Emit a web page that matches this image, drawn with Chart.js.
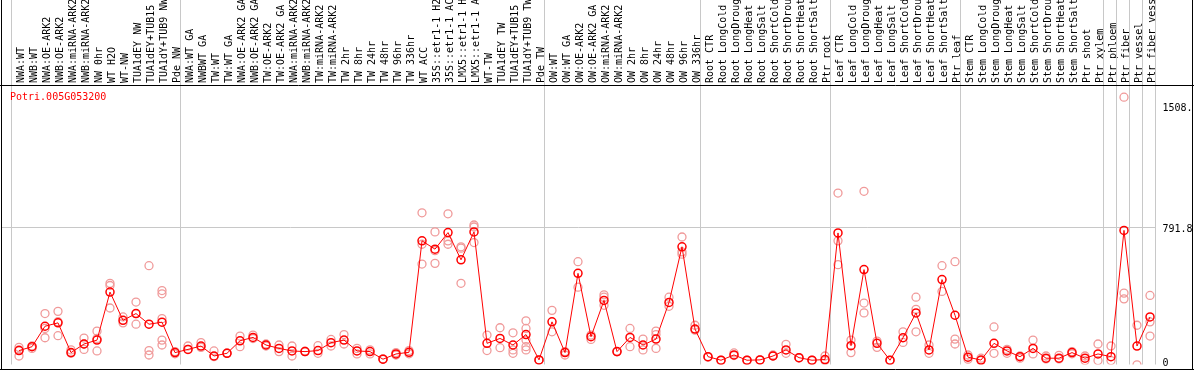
<!DOCTYPE html>
<html>
<head>
<meta charset="utf-8">
<script src="https://cdn.jsdelivr.net/npm/chart.js@4.4.1/dist/chart.umd.min.js"></script>
<style>
  body { margin: 0; background: #fff; }
</style>
</head>
<body>
<canvas id="expr" width="1194" height="370"></canvas>
<script>
// gene shown in the corner
const geneName = 'Potri.005G053200';

// sample names, left to right
const categories = [
  'NWA:WT', 'NWB:WT', 'NWA:OE-ARK2', 'NWB:OE-ARK2', 'NWA:miRNA-ARK2', 'NWB:miRNA-ARK2',
  'NW 0hr', 'WT H2O', 'WT-NW', 'TUA1dEY NW', 'TUA1dEY+TUB15 NW', 'TUA1dY+TUB9 NW', 'Pde NW',
  'NWA:WT GA', 'NWBWT GA', 'TW:WT', 'TW:WT GA', 'NWA:OE-ARK2 GA', 'NWB:OE-ARK2 GA',
  'TW:OE-ARK2', 'TW:OE-ARK2 GA', 'NWA:miRNA-ARK2 GA', 'NWB:miRNA-ARK2 GA', 'TW:miRNA-ARK2',
  'TW:miRNA-ARK2 GA', 'TW 2hr', 'TW 8hr', 'TW 24hr', 'TW 48hr', 'TW 96hr', 'TW 336hr',
  'WT ACC', '35S::etr1-1 H2O', '35S::etr1-1 ACC', 'LMX5::etr1-1 H2O', 'LMX5::etr1-1 ACC',
  'WT-TW', 'TUA1dEY TW', 'TUA1dEY+TUB15 TW', 'TUA1dY+TUB9 TW', 'Pde TW',
  'OW:WT', 'OW:WT GA', 'OW:OE-ARK2', 'OW:OE-ARK2 GA', 'OW:miRNA-ARK2', 'OW:miRNA-ARK2 GA',
  'OW 2hr', 'OW 8hr', 'OW 24hr', 'OW 48hr', 'OW 96hr', 'OW 336hr',
  'Root CTR', 'Root LongCold', 'Root LongDrought', 'Root LongHeat', 'Root LongSalt',
  'Root ShortCold', 'Root ShortDrought', 'Root ShortHeat', 'Root ShortSalt', 'Ptr root',
  'Leaf CTR', 'Leaf LongCold', 'Leaf LongDrought', 'Leaf LongHeat', 'Leaf LongSalt',
  'Leaf ShortCold', 'Leaf ShortDrought', 'Leaf ShortHeat', 'Leaf ShortSalt', 'Ptr leaf',
  'Stem CTR', 'Stem LongCold', 'Stem LongDrought', 'Stem LongHeat', 'Stem LongSalt',
  'Stem ShortCold', 'Stem ShortDrought', 'Stem ShortHeat', 'Stem ShortSalt', 'Ptr shoot', 'Ptr xylem',
  'Ptr phloem', 'Ptr fiber', 'Ptr vessel', 'Ptr fiber vessel'
];

// how many samples in each block between the gray separators
const groupSizes = [13, 28, 12, 10, 10, 11, 1, 1, 1, 1];

// mean expression per sample
const means = [
  59, 82, 203, 223, 47, 98, 121, 405, 238, 278, 215, 227, 47,
  66, 86, 27, 43, 117, 137, 92, 72, 57, 53, 59, 106, 121, 57, 53, 8, 39, 49,
  708, 659, 757, 596, 761, 102, 131, 92, 154, 4,
  229, 47, 516, 141, 356, 53, 137, 92, 127, 344, 673, 186,
  23, 2, 33, 2, 4, 27, 63, 17, 2, 6,
  755, 88, 538, 102, 2, 135, 282, 63, 479, 268,
  20, 3, 102, 57, 23, 72, 14, 14, 47, 14, 39,
  23, 770, 86, 258
];

// single replicate values per sample
const replicates = [
  [78, 27, 63], [86, 72], [278, 190, 135], [291, 147, 230], [63, 43], [133, 66, 98],
  [174, 131, 57], [457, 444, 311], [258, 223], [346, 215, 278], [561, 59, 33],
  [414, 395, 248, 121, 92], [53, 40],
  [86, 66], [106, 78], [57, 23], [43, 45], [145, 82], [151, 130], [98, 86], [92, 53],
  [86, 27], [53, 55], [88, 43], [125, 86], [154, 98], [72, 39], [63, 39], [8, 10],
  [47, 33], [59, 40],
  [874, 688, 571], [761, 575, 650], [868, 708, 688], [673, 665, 457], [802, 790, 698],
  [151, 59], [194, 76], [164, 63, 43], [235, 190, 121, 82, 63], [4, 2],
  [297, 170], [53, 33], [585, 434], [151, 125], [389, 375, 327], [53, 52],
  [190, 82], [127, 63], [174, 154, 72], [375, 321], [731, 643, 629], [209, 180],
  [23, 20], [2, 0], [45, 30], [2, 0], [4, 2], [33, 27], [96, 43], [17, 15], [2, 0], [27, 0],
  [708, 567, 991], [121, 47], [1001, 340, 282], [115, 78], [2, 0], [170, 107],
  [375, 303, 170], [92, 43], [561, 409], [585, 127, 98],
  [33, 8], [14, 0], [199, 43], [66, 43], [27, 14], [121, 39], [27, 10], [31, 10],
  [53, 40], [27, 0], [98, 0],
  [86, 0], [1558, 399, 365], [209, -25], [385, 229, 145]
];

// right hand axis
const yTicks = [0, 791.8, 1508];
const yTickLabels = ['0', '791.8', '1508.'];
const yMin = -23.3;
const yMax = 1630;

const monoFont = 'DejaVu Sans Mono';

const repPoints = [];
replicates.forEach((vals, i) => {
  vals.forEach(v => repPoints.push({ x: categories[i], y: v }));
});

const boundaries = [0];
groupSizes.forEach(n => boundaries.push(boundaries[boundaries.length - 1] + n));

const framePlugin = {
  id: 'frame',
  beforeDatasetsDraw(chart) {
    const ctx = chart.ctx;
    const xs = chart.scales.x;
    const ys = chart.scales.y;
    const area = chart.chartArea;
    ctx.save();
    ctx.strokeStyle = '#c8c8c8';
    ctx.lineWidth = 1;
    // block separators run through the label header too
    boundaries.forEach(b => {
      const px = Math.floor(xs.getPixelForValue(b - 0.5)) - 0.5;
      ctx.beginPath();
      ctx.moveTo(px, 0);
      ctx.lineTo(px, area.bottom);
      ctx.stroke();
    });
    // only the middle value gets a grid line
    const gy = Math.round(ys.getPixelForValue(yTicks[1])) + 0.5;
    ctx.beginPath();
    ctx.moveTo(2, gy);
    ctx.lineTo(area.right - 1, gy);
    ctx.stroke();
    ctx.restore();
  },
  afterDraw(chart) {
    const ctx = chart.ctx;
    const area = chart.chartArea;
    const w = chart.width;
    const h = chart.height;
    ctx.save();
    ctx.strokeStyle = '#000';
    ctx.lineWidth = 1;
    ctx.beginPath();
    ctx.moveTo(1.5, 0); ctx.lineTo(1.5, h);
    ctx.moveTo(w - 1.5, 0); ctx.lineTo(w - 1.5, h);
    ctx.moveTo(0, h - 0.5); ctx.lineTo(w, h - 0.5);
    ctx.moveTo(0, Math.round(area.top) + 0.5); ctx.lineTo(w, Math.round(area.top) + 0.5);
    ctx.stroke();
    ctx.fillStyle = '#ff0000';
    ctx.font = '10px "' + monoFont + '"';
    ctx.textBaseline = 'middle';
    ctx.fillText(geneName, 10, 97);
    ctx.restore();
  }
};

const ctx = document.getElementById('expr').getContext('2d');
const exprChart = new Chart(ctx, {
  type: 'line',
  data: {
    labels: categories,
    datasets: [{
      label: 'mean',
      data: means,
      borderColor: '#ff0000',
      borderWidth: 1,
      pointRadius: 4,
      pointBorderWidth: 1.5,
      pointBorderColor: '#ff0000',
      pointBackgroundColor: 'rgba(0,0,0,0)',
      tension: 0
    }, {
      label: 'replicates',
      data: repPoints,
      showLine: false,
      pointRadius: 4,
      pointBorderWidth: 1.3,
      pointBorderColor: '#f09a9a',
      pointBackgroundColor: 'rgba(0,0,0,0)'
    }]
  },
  options: {
    responsive: false,
    animation: false,
    devicePixelRatio: 1,
    events: [],
    layout: { padding: { left: 12.5, right: 0, top: 0, bottom: 1 } },
    plugins: {
      legend: { display: false },
      tooltip: { enabled: false }
    },
    scales: {
      x: {
        type: 'category',
        position: 'top',
        offset: true,
        grid: { display: false, drawTicks: false },
        border: { display: false },
        ticks: {
          autoSkip: false,
          minRotation: 90,
          maxRotation: 90,
          padding: 2,
          labelOffset: 14,
          color: '#000',
          font: { family: monoFont, size: 10 }
        },
        afterFit(scale) {
          scale.height = 85;
          scale.paddingLeft = 0;
          scale.paddingRight = 0;
        }
      },
      y: {
        position: 'right',
        min: yMin,
        max: yMax,
        grid: { display: false, drawTicks: false },
        border: { display: false },
        afterBuildTicks(scale) {
          scale.ticks = yTicks.map(v => ({ value: v }));
        },
        ticks: {
          padding: 6,
          color: '#000',
          font: { family: monoFont, size: 10 },
          // labels sit just under their value, the bottom one is kept inside
          labelOffset: c => (c.index === 0 ? -3 : 3),
          callback: (value, index) => yTickLabels[index]
        },
        afterFit(scale) {
          scale.width = 37.5;
          scale.paddingTop = 0;
          scale.paddingBottom = 0;
        }
      }
    }
  },
  plugins: [framePlugin]
});
</script>
</body>
</html>
